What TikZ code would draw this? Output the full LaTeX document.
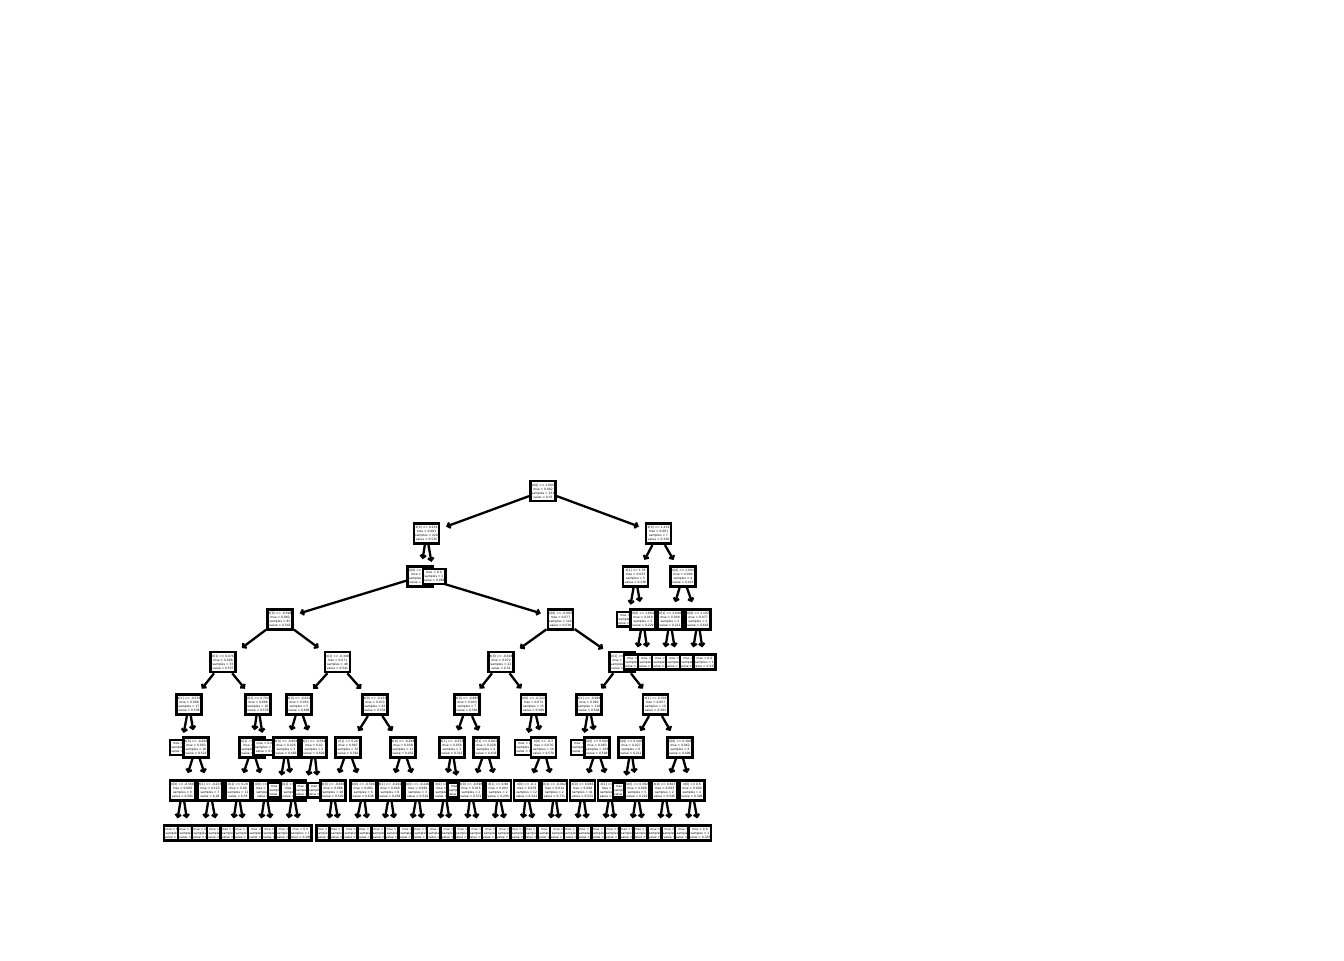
\documentclass[tikz,border=0pt]{standalone}
\usepackage{fontspec}
\setmainfont{DejaVu Sans}
\usetikzlibrary{arrows.meta, backgrounds}

\begin{document}
\begin{tikzpicture}[
    x=0.5pt, y=-0.5pt,
    split/.style={rectangle, draw, fill=white, line width=1.3pt, align=center, inner sep=0.3pt, minimum width=12.65pt, minimum height=10pt, font=\fontsize{1.5}{2}\selectfont},
    leaf/.style={split, minimum width=10.85pt, minimum height=7.35pt},
    arrow/.style={-{Straight Barb[length=1.3pt,width=2.8pt]}, line width=1.15pt, shorten >=3pt}
]
\useasboundingbox (0,0) rectangle (1344,960);

\node[split] (n0a) at (543,491) {X[0] <= 1.005\\mse = 0.082\\samples = 231\\value = 0.53};

\node[split] (n1a) at (426.5,533.75) {X[0] <= 0.934\\mse = 0.081\\samples = 224\\value = 0.535};
\node[split] (n1b) at (658.5,533.75) {X[0] <= 1.419\\mse = 0.061\\samples = 7\\value = 0.338};

\node[split] (n2a) at (420,576.5) {X[0] <= 0.908\\mse = 0.08\\samples = 223\\value = 0.537};
\node[leaf] (n2b) at (434,576.5) {mse = 0.0\\samples = 1\\value = 0.062};
\node[split] (n2c) at (635.5,576.5) {X[1] <= 1.78\\mse = 0.033\\samples = 3\\value = 0.238};
\node[split] (n2d) at (683,576.5) {X[0] <= 2.001\\mse = 0.094\\samples = 4\\value = 0.413};

\node[split] (n3a) at (280,619.25) {X[0] <= -0.398\\mse = 0.082\\samples = 81\\value = 0.543};
\node[split] (n3b) at (560.5,619.25) {X[0] <= -0.093\\mse = 0.077\\samples = 142\\value = 0.534};
\node[leaf] (n3c) at (628,619.25) {mse = 0.0\\samples = 1\\value = 0.256};
\node[split] (n3d) at (643,619.25) {X[0] <= 1.664\\mse = 0.019\\samples = 2\\value = 0.229};
\node[split] (n3e) at (670,619.25) {X[1] <= 2.649\\mse = 0.009\\samples = 2\\value = 0.211};
\node[split] (n3f) at (698,619.25) {X[0] <= 2.192\\mse = 0.077\\samples = 2\\value = 0.616};

\node[split] (n4a) at (223,662) {X[1] <= 0.076\\mse = 0.098\\samples = 33\\value = 0.557};
\node[split] (n4b) at (337.5,662) {X[1] <= -0.308\\mse = 0.071\\samples = 48\\value = 0.541};
\node[split] (n4c) at (501,662) {X[0] <= -0.508\\mse = 0.072\\samples = 22\\value = 0.52};
\node[split] (n4d) at (622,662) {X[1] <= 1.012\\mse = 0.078\\samples = 120\\value = 0.536};
\node[leaf] (n4e) at (635,662) {mse = 0.0\\samples = 1\\value = 0.091};
\node[leaf] (n4f) at (649,662) {mse = 0.0\\samples = 1\\value = 0.367};
\node[leaf] (n4g) at (663,662) {mse = 0.0\\samples = 1\\value = 0.116};
\node[leaf] (n4h) at (677,662) {mse = 0.0\\samples = 1\\value = 0.306};
\node[leaf] (n4i) at (691,662) {mse = 0.0\\samples = 1\\value = 0.895};
\node[leaf] (n4j) at (704.5,662) {mse = 0.0\\samples = 1\\value = 0.337};

\node[split] (n5a) at (189,704.75) {X[1] <= -0.536\\mse = 0.098\\samples = 17\\value = 0.538};
\node[split] (n5b) at (258,704.75) {X[1] <= 0.702\\mse = 0.096\\samples = 16\\value = 0.578};
\node[split] (n5c) at (299,704.75) {X[0] <= -0.622\\mse = 0.054\\samples = 5\\value = 0.606};
\node[split] (n5d) at (375,704.75) {X[0] <= -0.232\\mse = 0.072\\samples = 43\\value = 0.534};
\node[split] (n5e) at (467,704.75) {X[0] <= -0.885\\mse = 0.043\\samples = 7\\value = 0.383};
\node[split] (n5f) at (533.5,704.75) {X[0] <= -0.322\\mse = 0.072\\samples = 15\\value = 0.589};
\node[split] (n5g) at (589,704.75) {X[1] <= -0.986\\mse = 0.082\\samples = 110\\value = 0.546};
\node[split] (n5h) at (655.5,704.75) {X[1] <= 0.708\\mse = 0.067\\samples = 10\\value = 0.383};

\node[leaf] (n6a) at (181,747.5) {mse = 0.0\\samples = 1\\value = 0.82};
\node[split] (n6b) at (196,747.5) {X[0] <= -0.609\\mse = 0.093\\samples = 16\\value = 0.521};
\node[split] (n6c) at (252,747.5) {X[1] <= 0.318\\mse = 0.09\\samples = 15\\value = 0.576};
\node[leaf] (n6d) at (264.5,747.5) {mse = 0.0\\samples = 1\\value = 0.6};
\node[split] (n6e) at (286,747.5) {X[0] <= -0.802\\mse = 0.026\\samples = 3\\value = 0.483};
\node[split] (n6f) at (314,747.5) {X[1] <= -0.569\\mse = 0.02\\samples = 2\\value = 0.829};
\node[split] (n6g) at (348,747.5) {X[1] <= 0.26\\mse = 0.087\\samples = 32\\value = 0.562};
\node[split] (n6h) at (403,747.5) {X[0] <= -0.288\\mse = 0.038\\samples = 11\\value = 0.452};
\node[split] (n6i) at (452,747.5) {X[1] <= -0.555\\mse = 0.056\\samples = 3\\value = 0.312};
\node[split] (n6j) at (486,747.5) {X[1] <= 0.803\\mse = 0.028\\samples = 4\\value = 0.433};
\node[leaf] (n6k) at (526,747.5) {mse = 0.0\\samples = 1\\value = 0.73};
\node[split] (n6l) at (543.5,747.5) {X[0] <= -0.3\\mse = 0.076\\samples = 14\\value = 0.579};
\node[leaf] (n6m) at (582,747.5) {mse = 0.0\\samples = 1\\value = 0.27};
\node[split] (n6n) at (597,747.5) {X[0] <= 0.092\\mse = 0.083\\samples = 109\\value = 0.548};
\node[split] (n6o) at (631,747.5) {X[0] <= 0.446\\mse = 0.027\\samples = 6\\value = 0.211};
\node[split] (n6p) at (680,747.5) {X[0] <= 0.308\\mse = 0.062\\samples = 4\\value = 0.499};

\node[split] (n7a) at (182.5,790.25) {X[0] <= -0.566\\mse = 0.006\\samples = 9\\value = 0.581};
\node[split] (n7b) at (210,790.25) {X[1] <= -0.233\\mse = 0.123\\samples = 7\\value = 0.45};
\node[split] (n7c) at (238,790.25) {X[1] <= 0.29\\mse = 0.09\\samples = 11\\value = 0.53};
\node[split] (n7d) at (265.7,790.25) {X[0] <= -0.41\\mse = 0.081\\samples = 4\\value = 0.7};
\node[leaf] (n7e) at (279,790.25) {mse = 0.0\\samples = 1\\value = 0.31};
\node[split] (n7f) at (293,790.25) {X[1] <= 0.139\\mse = 0.0\\samples = 2\\value = 0.569};
\node[leaf] (n7g) at (305.5,790.25) {mse = 0.0\\samples = 1\\value = 0.97};
\node[leaf] (n7h) at (318.7,790.25) {mse = 0.0\\samples = 1\\value = 0.688};
\node[split] (n7i) at (333,790.25) {X[0] <= -0.066\\mse = 0.086\\samples = 26\\value = 0.529};
\node[split] (n7j) at (363.3,790.25) {X[0] <= -0.504\\mse = 0.081\\samples = 6\\value = 0.636};
\node[split] (n7k) at (390,790.25) {X[1] <= -0.202\\mse = 0.046\\samples = 8\\value = 0.454};
\node[split] (n7l) at (417.7,790.25) {X[0] <= -0.226\\mse = 0.064\\samples = 3\\value = 0.519};
\node[split] (n7m) at (445,790.25) {X[0] <= -0.7\\mse = 0.04\\samples = 2\\value = 0.38};
\node[leaf] (n7n) at (458.7,790.25) {mse = 0.0\\samples = 1\\value = 0.176};
\node[split] (n7o) at (471,790.25) {X[0] <= -0.598\\mse = 0.015\\samples = 2\\value = 0.571};
\node[split] (n7p) at (498.3,790.25) {X[1] <= 0.98\\mse = 0.003\\samples = 2\\value = 0.293};
\node[split] (n7q) at (526.7,790.25) {X[0] <= -0.1\\mse = 0.079\\samples = 12\\value = 0.543};
\node[split] (n7r) at (554.5,790.25) {X[1] <= -0.062\\mse = 0.014\\samples = 2\\value = 0.771};
\node[split] (n7s) at (582.5,790.25) {X[0] <= 0.086\\mse = 0.098\\samples = 41\\value = 0.523};
\node[split] (n7t) at (610.5,790.25) {X[1] <= 0.64\\mse = 0.07\\samples = 68\\value = 0.563};
\node[leaf] (n7u) at (623.7,790.25) {mse = 0.0\\samples = 1\\value = 0.17};
\node[split] (n7v) at (637,790.25) {X[0] <= 0.392\\mse = 0.008\\samples = 5\\value = 0.219};
\node[split] (n7w) at (664.5,790.25) {X[0] <= 0.807\\mse = 0.003\\samples = 2\\value = 0.545};
\node[split] (n7x) at (692,790.25) {X[0] <= 0.6\\mse = 0.004\\samples = 2\\value = 0.396};

\node[leaf] (n8a) at (175,833) {mse = 0.003\\samples = 4\\value = 0.507};
\node[leaf] (n8b) at (189,833) {mse = 0.004\\samples = 5\\value = 0.64};
\node[leaf] (n8c) at (203,833) {mse = 0.076\\samples = 4\\value = 0.273};
\node[leaf] (n8d) at (218,833) {mse = 0.05\\samples = 3\\value = 0.687};
\node[leaf] (n8e) at (231.5,833) {mse = 0.027\\samples = 5\\value = 0.35};
\node[leaf] (n8f) at (245,833) {mse = 0.061\\samples = 6\\value = 0.677};
\node[leaf] (n8g) at (259,833) {mse = 0.0\\samples = 1\\value = 0.28};
\node[leaf] (n8h) at (273,833) {mse = 0.02\\samples = 3\\value = 0.84};
\node[leaf] (n8i) at (286.5,833) {mse = 0.0\\samples = 1\\value = 0.85};
\node[leaf] (n8j) at (300.5,833) {mse = 0.0\\samples = 1\\value = 0.288};
\node[leaf] (n8k) at (327.2,833) {mse = 0.071\\samples = 17\\value = 0.47};
\node[leaf] (n8l) at (340.5,833) {mse = 0.086\\samples = 9\\value = 0.64};
\node[leaf] (n8m) at (353.9,833) {mse = 0.0\\samples = 1\\value = 0.17};
\node[leaf] (n8n) at (368.9,833) {mse = 0.045\\samples = 5\\value = 0.729};
\node[leaf] (n8o) at (382.2,833) {mse = 0.02\\samples = 4\\value = 0.33};
\node[leaf] (n8p) at (396.2,833) {mse = 0.043\\samples = 4\\value = 0.578};
\node[leaf] (n8q) at (409.9,833) {mse = 0.0\\samples = 1\\value = 0.191};
\node[leaf] (n8r) at (423.9,833) {mse = 0.012\\samples = 2\\value = 0.683};
\node[leaf] (n8s) at (437.9,833) {mse = 0.0\\samples = 1\\value = 0.18};
\node[leaf] (n8t) at (451.5,833) {mse = 0.0\\samples = 1\\value = 0.58};
\node[leaf] (n8u) at (465.5,833) {mse = 0.0\\samples = 1\\value = 0.449};
\node[leaf] (n8v) at (479.5,833) {mse = 0.0\\samples = 1\\value = 0.693};
\node[leaf] (n8w) at (493.2,833) {mse = 0.0\\samples = 1\\value = 0.239};
\node[leaf] (n8x) at (507.2,833) {mse = 0.0\\samples = 1\\value = 0.347};
\node[leaf] (n8y) at (521.2,833) {mse = 0.063\\samples = 7\\value = 0.43};
\node[leaf] (n8z) at (535.5,833) {mse = 0.066\\samples = 5\\value = 0.701};
\node[leaf] (n8A) at (548.9,833) {mse = 0.0\\samples = 1\\value = 0.653};
\node[leaf] (n8B) at (561.2,833) {mse = 0.0\\samples = 1\\value = 0.889};
\node[leaf] (n8C) at (574.9,833) {mse = 0.094\\samples = 23\\value = 0.47};
\node[leaf] (n8D) at (588.9,833) {mse = 0.095\\samples = 18\\value = 0.591};
\node[leaf] (n8E) at (602.9,833) {mse = 0.071\\samples = 40\\value = 0.602};
\node[leaf] (n8F) at (616.2,833) {mse = 0.066\\samples = 28\\value = 0.507};
\node[leaf] (n8G) at (630.5,833) {mse = 0.001\\samples = 2\\value = 0.18};
\node[leaf] (n8H) at (644.5,833) {mse = 0.008\\samples = 3\\value = 0.249};
\node[leaf] (n8I) at (658.2,833) {mse = 0.0\\samples = 1\\value = 0.49};
\node[leaf] (n8J) at (672.2,833) {mse = 0.0\\samples = 1\\value = 0.6};
\node[leaf] (n8K) at (686.2,833) {mse = 0.0\\samples = 1\\value = 0.457};
\node[leaf] (n8L) at (699.9,833) {mse = 0.0\\samples = 1\\value = 0.335};

\begin{scope}[on background layer]
\foreach \p/\c in {n0a/n1a, n0a/n1b,
    n1a/n2a, n1a/n2b, n1b/n2c, n1b/n2d,
    n2a/n3a, n2a/n3b, n2c/n3c, n2c/n3d, n2d/n3e, n2d/n3f,
    n3a/n4a, n3a/n4b, n3b/n4c, n3b/n4d, n3d/n4e, n3d/n4f, n3e/n4g, n3e/n4h, n3f/n4i, n3f/n4j,
    n4a/n5a, n4a/n5b, n4b/n5c, n4b/n5d, n4c/n5e, n4c/n5f, n4d/n5g, n4d/n5h,
    n5a/n6a, n5a/n6b, n5b/n6c, n5b/n6d, n5c/n6e, n5c/n6f, n5d/n6g, n5d/n6h,
    n5e/n6i, n5e/n6j, n5f/n6k, n5f/n6l, n5g/n6m, n5g/n6n, n5h/n6o, n5h/n6p,
    n6b/n7a, n6b/n7b, n6c/n7c, n6c/n7d, n6e/n7e, n6e/n7f, n6f/n7g, n6f/n7h,
    n6g/n7i, n6g/n7j, n6h/n7k, n6h/n7l, n6i/n7m, n6i/n7n, n6j/n7o, n6j/n7p,
    n6l/n7q, n6l/n7r, n6n/n7s, n6n/n7t, n6o/n7u, n6o/n7v, n6p/n7w, n6p/n7x,
    n7a/n8a, n7a/n8b, n7b/n8c, n7b/n8d, n7c/n8e, n7c/n8f, n7d/n8g, n7d/n8h,
    n7f/n8i, n7f/n8j, n7i/n8k, n7i/n8l, n7j/n8m, n7j/n8n, n7k/n8o, n7k/n8p,
    n7l/n8q, n7l/n8r, n7m/n8s, n7m/n8t, n7o/n8u, n7o/n8v, n7p/n8w, n7p/n8x,
    n7q/n8y, n7q/n8z, n7r/n8A, n7r/n8B, n7s/n8C, n7s/n8D, n7t/n8E, n7t/n8F,
    n7v/n8G, n7v/n8H, n7w/n8I, n7w/n8J, n7x/n8K, n7x/n8L}
    \draw[arrow] (\p) -- (\c);
\end{scope}
\end{tikzpicture}
\end{document}
